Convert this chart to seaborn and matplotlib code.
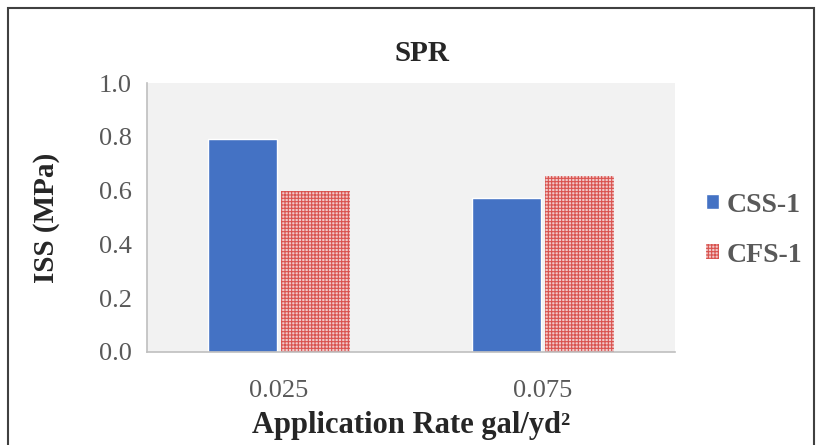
import pandas as pd
import matplotlib.pyplot as plt
import seaborn as sns
from matplotlib.patches import Patch, Rectangle

# values
rates = ["0.025", "0.075"]
css1 = [0.79, 0.572]
cfs1 = [0.598, 0.655]
series = ["CSS-1", "CFS-1"]

df = pd.DataFrame({
    "rate": rates * 2,
    "iss": css1 + cfs1,
    "emulsion": [series[0]] * 2 + [series[1]] * 2,
})

sns.set_style("white")
plt.rcParams["font.family"] = ["Liberation Serif", "DejaVu Serif"]
plt.rcParams["hatch.color"] = "#D9534F"
plt.rcParams["hatch.linewidth"] = 0.8

fig = plt.figure(figsize=(8.16, 4.45), dpi=100)
ax = fig.add_axes([147 / 816, 1 - 352 / 445, (675 - 147) / 816, (352 - 83) / 445])
ax.set_facecolor("#F2F2F2")

sns.barplot(data=df, x="rate", y="iss", hue="emulsion", order=rates,
            hue_order=series, palette=["#4472C4", "#F2C9C9"],
            width=0.55, gap=0.05, saturation=1, legend=False, ax=ax)

# hatch the CFS-1 bars
for bar in ax.containers[1]:
    bar.set_hatch("+++++")
    bar.set_edgecolor("#D9534F")
    bar.set_linewidth(0)

ax.set_ylim(0, 1.0)
ax.set_yticks([0, 0.2, 0.4, 0.6, 0.8, 1.0])
ax.set_yticklabels([f"{t:.1f}" for t in ax.get_yticks()])
ax.tick_params(axis="y", labelsize=19, colors="#595959", length=7, width=1, pad=4)
ax.tick_params(axis="x", labelsize=19, colors="#595959", length=0, pad=20)
for s in ["top", "right"]:
    ax.spines[s].set_visible(False)
for s in ["left", "bottom"]:
    ax.spines[s].set_color("#BFBFBF")
    ax.spines[s].set_linewidth(1.2)

ax.set_title("SPR", fontsize=21, fontweight="bold", pad=16, x=0.52)
ax.set_ylabel("ISS (MPa)", fontsize=21, fontweight="bold", labelpad=28)
ax.set_xlabel("Application Rate gal/yd²", fontsize=22, fontweight="bold", labelpad=7)

handles = [Patch(facecolor="#4472C4", label="CSS-1"),
           Patch(facecolor="#F2C9C9", edgecolor="#D9534F", hatch="+++++",
                 linewidth=0, label="CFS-1")]
leg = fig.legend(handles=handles, loc="center left", bbox_to_anchor=(681 / 816, 1 - 230 / 445),
                 frameon=False, fontsize=20, handlelength=0.45, handleheight=0.45,
                 labelspacing=0.9, handletextpad=0.3)
for t in leg.get_texts():
    t.set_color("#595959")
    t.set_fontweight("bold")

# outer chart frame
fig.patches.append(Rectangle((8 / 816, -0.05), 806 / 816, 1 - 8 / 445 + 0.05,
                             transform=fig.transFigure, fill=False,
                             edgecolor="#404040", linewidth=1.5))

fig.savefig("out.png", dpi=100)
